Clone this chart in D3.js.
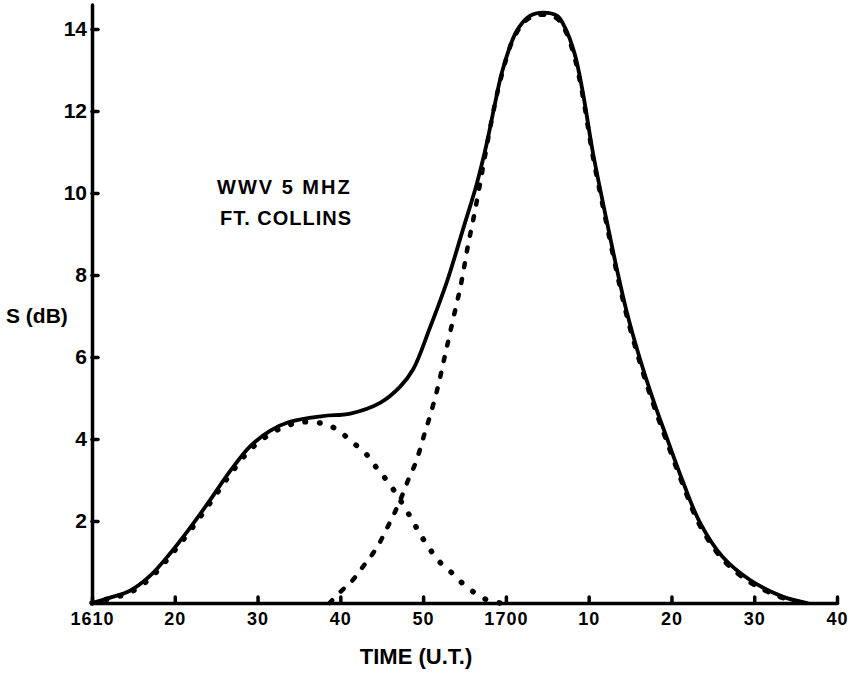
<!DOCTYPE html>
<html>
<head>
<meta charset="utf-8">
<script src="https://cdn.jsdelivr.net/npm/d3@7"></script>
<style>
    body { margin: 0; background: #fff; }
    text { font-family: "Liberation Sans", Arial, sans-serif; font-weight: bold; fill: #000; }
    .axis path, .axis line { stroke: #000; stroke-width: 3.5; stroke-linecap: round; }
    .axis text { font-family: "Liberation Sans", Arial, sans-serif; font-weight: bold; }
</style>
</head>
<body>
<div id="chart"></div>
<script>
// minutes after 16:10 UT
var tickMinutes = [0, 10, 20, 30, 40, 50, 60, 70, 80, 90];
var tickLabels = ["1610", "20", "30", "40", "50", "1700", "10", "20", "30", "40"];
var yTicks = [2, 4, 6, 8, 10, 12, 14];

// measured total signal (solid)
var totalMin = [0, 2, 4.6, 7, 9.4, 11.8, 14.3, 16.7, 19.1, 21.5, 23.9, 27.9, 31.2, 34.8, 37.2, 38.8, 40.8, 42.9, 44.8, 46.5, 47.7, 48.7, 49.6, 51.3, 52.9, 54.5, 56.2, 57.1, 58.3, 59.3, 60.5, 62.2, 63.4, 64.6, 66.2, 67.8, 69.4, 71.4, 73.4, 76.2, 79.5, 83.5, 86.4];
var totalDb = [0, 0.12, 0.3, 0.66, 1.2, 1.82, 2.52, 3.22, 3.82, 4.2, 4.42, 4.56, 4.62, 4.88, 5.27, 5.7, 6.7, 7.85, 9.1, 10.24, 11.22, 12.2, 13.0, 13.95, 14.32, 14.4, 14.32, 14.05, 13.4, 12.45, 11.0, 9.3, 8.15, 7.1, 5.95, 4.95, 4.05, 2.95, 1.98, 1.12, 0.56, 0.15, 0];

// first mode (round dots)
var mode1Min = [0, 2, 4.6, 7, 9.4, 11.8, 14.3, 16.7, 19.1, 21.5, 23.9, 26, 28.5, 30, 31.4, 33, 34.3, 35.5, 36.7, 37.6, 38.8, 39.7, 40.9, 42.1, 43.5, 44.7, 46.3, 47.8, 49.3];
var mode1Db = [0, 0.1, 0.26, 0.6, 1.14, 1.75, 2.45, 3.14, 3.74, 4.12, 4.35, 4.42, 4.34, 4.17, 3.93, 3.66, 3.32, 3.02, 2.68, 2.39, 1.98, 1.66, 1.29, 0.98, 0.73, 0.49, 0.24, 0.07, 0];

// second mode (dashes)
var mode2Min = [28.7, 30, 31.5, 32.6, 33.8, 34.8, 35.7, 36.6, 37.4, 38.2, 39.0, 39.6, 40.2, 40.8, 41.7, 42.6, 43.6, 44.6, 45.4, 46.3, 47.3, 48.3, 49.4, 51.0, 52.7, 54.5, 56.2, 57.2, 58.3, 59.3, 60.5, 62.2, 63.4, 64.6, 66.2, 67.8, 69.4, 71.4, 73.4, 76.2, 79.5, 83.5, 86];
var mode2Db = [0, 0.27, 0.56, 0.85, 1.17, 1.49, 1.85, 2.22, 2.59, 3.0, 3.37, 3.73, 4.15, 4.54, 5.2, 6.0, 6.9, 7.8, 8.7, 9.6, 10.7, 11.8, 12.8, 13.8, 14.25, 14.35, 14.25, 13.95, 13.3, 12.35, 10.9, 9.2, 8.05, 7.0, 5.85, 4.85, 3.95, 2.87, 1.9, 1.06, 0.5, 0.12, 0];

var svg = d3.select("#chart").append("svg")
    .attr("width", 862)
    .attr("height", 673);

var x = d3.scaleLinear().domain([0, 90]).range([92, 837]);
var y = d3.scaleLinear().domain([0, 14.6]).range([603, 4.4]);

function pairs(xs, ys) {
    return xs.map(function (m, i) { return [m, ys[i]]; });
}

var line = d3.line()
    .x(function (d) { return x(d[0]); })
    .y(function (d) { return y(d[1]); })
    .curve(d3.curveCatmullRom.alpha(0.5));

svg.append("path")
    .attr("d", line(pairs(mode1Min, mode1Db)))
    .attr("fill", "none")
    .attr("stroke", "#000")
    .attr("stroke-width", 5.5)
    .attr("stroke-linecap", "round")
    .attr("stroke-dasharray", "0.5,14");

svg.append("path")
    .attr("d", line(pairs(mode2Min, mode2Db)))
    .attr("fill", "none")
    .attr("stroke", "#000")
    .attr("stroke-width", 4.5)
    .attr("stroke-linecap", "round")
    .attr("stroke-dasharray", "4,12");

svg.append("path")
    .attr("d", line(pairs(totalMin, totalDb)))
    .attr("fill", "none")
    .attr("stroke", "#000")
    .attr("stroke-width", 3.8)
    .attr("stroke-linecap", "round")
    .attr("stroke-linejoin", "round");

var xAxis = svg.append("g")
    .attr("class", "axis")
    .attr("transform", "translate(0," + y(0) + ")")
    .call(d3.axisBottom(x)
        .tickValues(tickMinutes)
        .tickFormat(function (d, i) { return tickLabels[i]; })
        .tickSizeInner(-6)
        .tickSizeOuter(0)
        .tickPadding(9));
xAxis.selectAll("text")
    .attr("font-size", 18)
    .attr("letter-spacing", 1)
    .attr("fill", "#000");

var yAxis = svg.append("g")
    .attr("class", "axis")
    .attr("transform", "translate(" + x(0) + ",0)")
    .call(d3.axisLeft(y)
        .tickValues(yTicks)
        .tickSizeInner(-6)
        .tickSizeOuter(0)
        .tickPadding(5));
yAxis.selectAll("text")
    .attr("font-size", 21)
    .attr("fill", "#000");

svg.append("text")
    .attr("x", 6)
    .attr("y", 323)
    .attr("font-size", 21)
    .text("S (dB)");

svg.append("text")
    .attr("x", 416)
    .attr("y", 664)
    .attr("text-anchor", "middle")
    .attr("font-size", 22)
    .text("TIME (U.T.)");

svg.append("text")
    .attr("x", 217)
    .attr("y", 194)
    .attr("font-size", 20)
    .attr("letter-spacing", 2)
    .text("WWV 5 MHZ");

svg.append("text")
    .attr("x", 220)
    .attr("y", 225)
    .attr("font-size", 20)
    .attr("letter-spacing", 1)
    .text("FT. COLLINS");
</script>
</body>
</html>
